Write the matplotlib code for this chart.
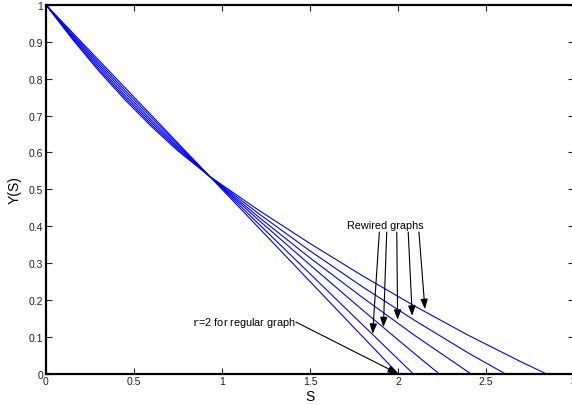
import numpy as np
import matplotlib
matplotlib.use('Agg')
import matplotlib.pyplot as plt

plt.rcParams['font.family'] = ['Liberation Sans', 'DejaVu Sans']
plt.rcParams['mathtext.fontset'] = 'custom'
plt.rcParams['mathtext.tt'] = 'Liberation Mono'

# valores: uma curva por grafo (regular r=2 e os religados)
S_esq = [0, 0.15, 0.3, 0.45, 0.6, 0.75, 0.93]
Y_esq = [
    [1, 0.925, 0.850, 0.775, 0.700, 0.625, 0.535],
    [1, 0.921, 0.844, 0.768, 0.694, 0.621, 0.535],
    [1, 0.917, 0.838, 0.761, 0.687, 0.616, 0.535],
    [1, 0.914, 0.832, 0.754, 0.681, 0.612, 0.535],
    [1, 0.910, 0.826, 0.748, 0.675, 0.608, 0.535],
    [1, 0.907, 0.821, 0.742, 0.670, 0.604, 0.535],
]

S_dir = [
    [1.2, 1.5, 1.8, 2.0],
    [1.2, 1.5, 1.8, 2.086],
    [1.2, 1.5, 1.8, 2.1, 2.233],
    [1.2, 1.5, 1.8, 2.1, 2.413],
    [1.2, 1.5, 1.8, 2.1, 2.4, 2.608],
    [1.2, 1.5, 1.8, 2.1, 2.4, 2.7, 2.841],
]
Y_dir = [
    [0.400, 0.250, 0.100, 0],
    [0.410, 0.271, 0.132, 0],
    [0.420, 0.295, 0.172, 0.052, 0],
    [0.428, 0.314, 0.206, 0.102, 0],
    [0.437, 0.333, 0.235, 0.143, 0.056, 0],
    [0.446, 0.353, 0.265, 0.182, 0.104, 0.032, 0],
]

# pontas e origens das setas "Rewired graphs"
seta_ini = [(1.894, 0.384), (1.936, 0.384), (1.993, 0.384), (2.058, 0.384), (2.119, 0.384)]
seta_fim = [(1.856, 0.108), (1.917, 0.126), (1.998, 0.146), (2.081, 0.157), (2.153, 0.175)]

xticks = [0, 0.5, 1, 1.5, 2, 2.5, 3]
yticks = [0, 0.1, 0.2, 0.3, 0.4, 0.5, 0.6, 0.7, 0.8, 0.9, 1]

fig = plt.figure(figsize=(5.72, 4.06), dpi=100)
ax = fig.add_axes([0.0804, 0.0771, 0.9231, 0.9084])

for k in range(len(Y_esq)):
    s = S_esq + S_dir[k]
    y = Y_esq[k] + Y_dir[k]
    ax.plot(s, y, color=(0, 0, 1), lw=0.8)

ax.set_xlim(0, 3)
ax.set_ylim(0, 1)
ax.set_xticks(xticks)
ax.set_xticklabels(['0', '0.5', '1', '1.5', '2', '2.5', '3'])
ax.set_yticks(yticks)
ax.set_yticklabels(['0', '0.1', '0.2', '0.3', '0.4', '0.5', '0.6', '0.7', '0.8', '0.9', '1'])
ax.tick_params(direction='in', top=True, right=True, length=4, width=0.8,
               labelsize=7.5, pad=2, colors='#222222')
for sp in ax.spines.values():
    sp.set_linewidth(1.6)
    sp.set_color('black')

ax.set_xlabel('S', fontsize=10, labelpad=1.5)
ax.set_ylabel('Y(S)', fontsize=10, labelpad=5)

ax.text(1.93, 0.403, 'Rewired graphs', fontsize=7.8, ha='center', va='center')
for a, b in zip(seta_ini, seta_fim):
    ax.annotate('', xy=b, xytext=a,
                arrowprops=dict(arrowstyle='-|>,head_length=0.6,head_width=0.22',
                                color='black', lw=0.8,
                                mutation_scale=10, shrinkA=0, shrinkB=0))

ax.text(1.42, 0.14, r'$\mathtt{r}$=2 for regular graph', fontsize=7.8,
        ha='right', va='center')
ax.annotate('', xy=(2.0, 0.0), xytext=(1.42, 0.14),
            arrowprops=dict(arrowstyle='-|>,head_length=0.6,head_width=0.22',
                            color='black', lw=0.8,
                            mutation_scale=10, shrinkA=0, shrinkB=0))

fig.savefig('out.png', dpi=100)
